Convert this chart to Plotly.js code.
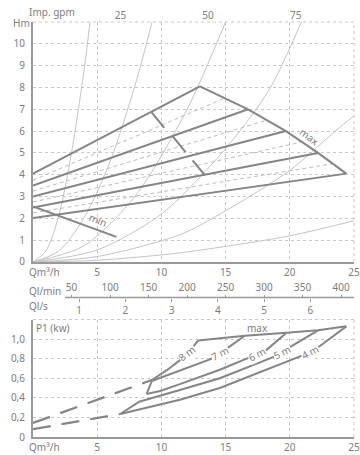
<!DOCTYPE html>
<html><head><meta charset="utf-8">
<script src="https://cdn.plot.ly/plotly-3.0.1.min.js"></script>
<style>body{margin:0;padding:0;background:#fff}#chart{width:360px;height:455px}</style>
</head><body><div id="chart"></div>
<script>
// ---------- H-Q diagram (top) ----------
const hqQ = [[0,13.0],[0,16.75],[0,19.7],[0,22.2],[0,24.4]];      // 8m,7m,6m,5m,4m
const hqH = [[4.05,8.05],[3.5,7.0],[3.0,6.0],[2.5,5.0],[2.02,4.05]];
const maxQ = [13.0,16.75,19.7,22.2,24.4];
const maxH = [8.05,7.0,6.0,5.0,4.05];
const minQ = [0,6.5];
const minH = [2.55,1.15];
const midQ = [[0,14.9],[0,18.2],[0,20.9],[0,23.3]];
const midH = [[3.75,7.5],[3.25,6.5],[2.75,5.5],[2.25,4.5]];
const markQ = [9.24,10.22,null,10.87,11.88,null,12.43,13.39];
const markH = [6.86,6.15,null,5.77,5.04,null,4.66,3.97];
const sysQ = [[0,1,2,3,4,4.44],[0,2,4,6,8,9.27],[0,4,8,12,15.0],[0,5,10,15,18.4,20.9],[0,5,11.44,15.07,20,23.6,25],[0,5,11.44,20,25]];
const sysH = [[0,0.5,2.1,5.0,8.9,11],[0,0.5,2.05,4.6,8.2,11],[0,0.75,3.05,7.0,11],[0,0.55,2.2,5.2,7.9,11],[0,0.25,1.25,2.37,4.2,6.03,6.7],[0,0.08,0.42,1.2,1.89]];
const hTicks = [0,1,2,3,4,5,6,7,8,9,10];
const qTicks = [5,10,15,20,25];
const gpmTicks = [25,50,75];
const lminTicks = [50,100,150,200,250,300,350,400];
const lsTicks = [1,2,3,4,5,6];
// ---------- P1 diagram (bottom) ----------
const pLabels = ['8 m','7 m','6 m','5 m','4 m'];
const pQ = [[9.3,10.5,11.5,12.4,12.87],[9.3,11.44,13.83,15.33,16.5],[8.85,9.9,11.44,14.55,16.74,18.2,19.74],[6.8,8.27,11.44,14.55,18.7,20.1,22.2],[6.8,11.44,14.55,17.5,20.8,22.3,24.4]];
const pP = [[0.585,0.69,0.79,0.91,0.986],[0.575,0.68,0.795,0.925,1.034],[0.44,0.47,0.54,0.687,0.806,0.89,1.065],[0.235,0.36,0.48,0.60,0.816,0.925,1.09],[0.235,0.38,0.50,0.65,0.823,0.925,1.13]];
const pLabelQ = [12.0,14.6,17.45,19.4,21.55];
const pLabelP = [0.855,0.855,0.85,0.87,0.872];
const pMaxQ = [12.87,16.5,19.74,22.2,24.4];
const pMaxP = [0.986,1.034,1.065,1.09,1.13];
const pEdgeQ = [9.3,8.85];
const pEdgeP = [0.585,0.44];
const pDashUpQ = [0,9.3], pDashUpP = [0.143,0.585];
const pDashLoQ = [0,6.8], pDashLoP = [0.08,0.235];
const pTicks = [0,0.2,0.4,0.6,0.8,1.0];
const pTickText = ['0','0,2','0,4','0,6','0,8','1,0'];

const DARK = '#858585', LIGHT = '#c4c4c4', GRID = '#c8c8c8', TXT = '#7d7d7d';
const FONT = 'Noto Sans';
const traces = [];
sysQ.forEach((q,i)=>traces.push({x:q,y:sysH[i],mode:'lines',line:{color:LIGHT,width:1,shape:'spline',smoothing:0.8},xaxis:'x',yaxis:'y',hoverinfo:'skip'}));
midQ.forEach((q,i)=>traces.push({x:q,y:midH[i],mode:'lines',line:{color:'#bdbdbd',width:1,dash:'4px,3px'},xaxis:'x',yaxis:'y'}));
hqQ.forEach((q,i)=>traces.push({x:q,y:hqH[i],mode:'lines',line:{color:DARK,width:2},xaxis:'x',yaxis:'y'}));
traces.push({x:maxQ,y:maxH,mode:'lines',line:{color:DARK,width:2},xaxis:'x',yaxis:'y'});
traces.push({x:minQ,y:minH,mode:'lines',line:{color:DARK,width:2},xaxis:'x',yaxis:'y'});
traces.push({x:markQ,y:markH,mode:'lines',connectgaps:false,line:{color:DARK,width:2},xaxis:'x',yaxis:'y'});
traces.push({x:[0,91.67],y:[0,0],mode:'markers',marker:{opacity:0},xaxis:'x2',yaxis:'y',hoverinfo:'skip'});
// bottom
traces.push({x:pDashUpQ,y:pDashUpP,mode:'lines',line:{color:DARK,width:2.2,dash:'18px,11px'},xaxis:'x3',yaxis:'y2'});
traces.push({x:pDashLoQ,y:pDashLoP,mode:'lines',line:{color:DARK,width:2.2,dash:'18px,11px'},xaxis:'x3',yaxis:'y2'});
pQ.forEach((q,i)=>traces.push({x:q,y:pP[i],mode:'lines',line:{color:DARK,width:2},xaxis:'x3',yaxis:'y2'}));
traces.push({x:pEdgeQ,y:pEdgeP,mode:'lines',line:{color:DARK,width:2},xaxis:'x3',yaxis:'y2'});
traces.push({x:pMaxQ,y:pMaxP,mode:'lines',line:{color:DARK,width:2},xaxis:'x3',yaxis:'y2'});
traces.push({x:[0,416.67],y:[0,0],mode:'markers',marker:{opacity:0},xaxis:'x4',yaxis:'y2',hoverinfo:'skip'});
traces.push({x:[0,6.944],y:[0,0],mode:'markers',marker:{opacity:0},xaxis:'x5',yaxis:'y2',hoverinfo:'skip'});

const tf = {family:FONT,size:10,color:TXT};
const gridAx = {showgrid:true,gridcolor:GRID,griddash:'3px,3px',gridwidth:1,zeroline:false,tickfont:tf,ticks:'',fixedrange:true};
const annotations = [
  {text:'Hm',xref:'paper',yref:'paper',x:0,y:1,xanchor:'right',yanchor:'middle',xshift:-1,yshift:-1,showarrow:false,font:tf},
  {text:'Imp. gpm',xref:'paper',yref:'paper',x:0,y:1,xanchor:'left',yanchor:'middle',xshift:-6,yshift:10,showarrow:false,font:tf},
  {text:'Qm³/h',xref:'paper',yref:'y',x:0,y:0,xanchor:'left',yanchor:'top',xshift:-6,yshift:-1,showarrow:false,font:tf},
  {text:'min',xref:'x',yref:'y',x:5.06,y:1.92,textangle:22,showarrow:false,font:tf},
  {text:'max',xref:'x',yref:'y',x:21.56,y:5.73,textangle:36,showarrow:false,font:tf},
  {text:'Ql/min',xref:'paper',yref:'paper',x:0,y:0.3361,xanchor:'left',yanchor:'middle',xshift:-6,yshift:7,showarrow:false,font:tf},
  {text:'Ql/s',xref:'paper',yref:'paper',x:0,y:0.3361,xanchor:'left',yanchor:'middle',xshift:-6,yshift:-8,showarrow:false,font:tf},
  {text:'P1 (kw)',xref:'paper',yref:'y2',x:0,y:1.2,xanchor:'left',yanchor:'top',xshift:1,yshift:1,showarrow:false,font:tf},
  {text:'Qm³/h',xref:'paper',yref:'y2',x:0,y:0,xanchor:'left',yanchor:'top',xshift:-6,yshift:-1,showarrow:false,font:tf},
  {text:'max',xref:'x3',yref:'y2',x:17.5,y:1.11,showarrow:false,font:tf}
];
pLabels.forEach((t,i)=>annotations.push({text:t,xref:'x3',yref:'y2',x:pLabelQ[i],y:pLabelP[i],textangle:i===0?-38:-27,showarrow:false,bgcolor:'#fff',borderpad:0,font:tf}));

const dashLine = {color:GRID,width:1,dash:'3px,3px'};
const layout = {
  width:360,height:455,margin:{l:33,r:6,t:22,b:18},
  paper_bgcolor:'#fff',plot_bgcolor:'#fff',showlegend:false,
  font:{family:FONT,color:TXT,size:10},
  xaxis:Object.assign({},gridAx,{domain:[0,1],anchor:'y',range:[0,25],tickvals:qTicks,showline:true,linecolor:'#999',linewidth:2}),
  yaxis:Object.assign({},gridAx,{domain:[0.4217,1],anchor:'x',range:[0,11],tickvals:hTicks,showline:true,linecolor:'#999',linewidth:2,ticklabelstandoff:4}),
  xaxis2:{overlaying:'x',anchor:'y',side:'top',range:[0,91.67],tickvals:gpmTicks,showgrid:false,zeroline:false,showline:false,ticks:'',tickfont:tf},
  xaxis3:Object.assign({},gridAx,{domain:[0,1],anchor:'y2',range:[0,25],tickvals:qTicks,showline:true,linecolor:'#999',linewidth:2}),
  yaxis2:Object.assign({},gridAx,{domain:[0,0.2831],anchor:'x3',range:[0,1.2],tickvals:pTicks,ticktext:pTickText,showline:true,linecolor:'#999',linewidth:2,ticklabelstandoff:4}),
  xaxis4:{overlaying:'x3',anchor:'free',position:0.3361,side:'top',range:[0,416.67],tickvals:lminTicks,showgrid:false,zeroline:false,showline:false,ticks:'outside',ticklen:3,tickcolor:'#999',tickfont:tf},
  xaxis5:{overlaying:'x3',anchor:'free',position:0.3361,side:'bottom',range:[0,6.944],tickvals:lsTicks,showgrid:false,zeroline:false,showline:false,ticks:'outside',ticklen:3,tickcolor:'#999',tickfont:tf},
  shapes:[
    {type:'line',xref:'paper',yref:'paper',x0:0.1,x1:1,y0:0.3361,y1:0.3361,line:{color:'#999',width:1.5}},
    {type:'line',xref:'x domain',yref:'y domain',x0:0,x1:1,y0:1,y1:1,line:dashLine,layer:'below'},
    {type:'line',xref:'x domain',yref:'y domain',x0:1,x1:1,y0:0,y1:1,line:dashLine,layer:'below'},
    {type:'line',xref:'x3 domain',yref:'y2 domain',x0:0,x1:1,y0:1,y1:1,line:dashLine,layer:'below'},
    {type:'line',xref:'x3 domain',yref:'y2 domain',x0:1,x1:1,y0:0,y1:1,line:dashLine,layer:'below'}
  ],
  annotations:annotations
};
Plotly.newPlot('chart',traces,layout,{staticPlot:true,displayModeBar:false});
</script></body></html>
